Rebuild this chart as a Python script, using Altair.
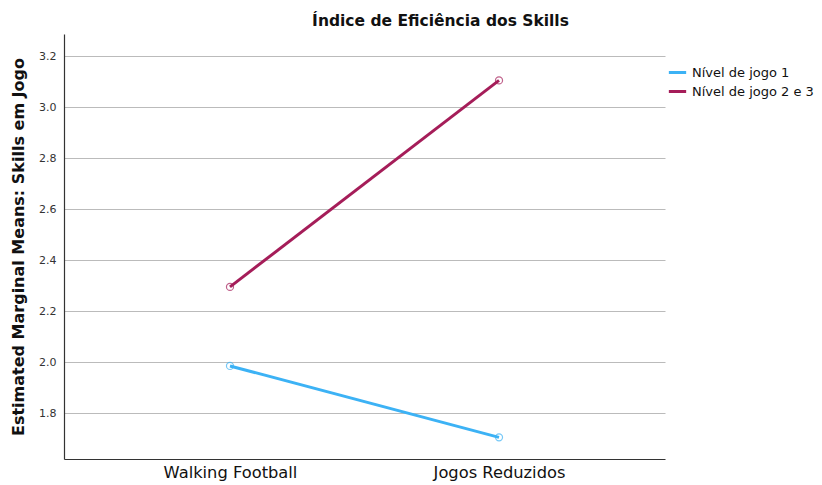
import altair as alt
import pandas as pd

categories = ["Walking Football", "Jogos Reduzidos"]
series = ["Nível de jogo 1", "Nível de jogo 2 e 3"]
nivel1 = [1.985, 1.705]
nivel23 = [2.295, 3.105]

rows = []
for s, vals in zip(series, [nivel1, nivel23]):
    for c, v in zip(categories, vals):
        rows.append({"cat": c, "serie": s, "value": v})
df = pd.DataFrame(rows)

FONT = "DejaVu Sans"
colors = ["#3cb2f5", "#a51d59"]

x = alt.X("cat:N", sort=categories, title=None,
          scale=alt.Scale(type="point", padding=0.617),
          axis=alt.Axis(labelAngle=0, labelFontSize=16.3, labelColor="#111", ticks=False,
                        domainColor="#333", domainWidth=1.2, labelPadding=5, labelFont=FONT))
y = alt.Y("value:Q", title="Estimated Marginal Means: Skills em Jogo",
          scale=alt.Scale(domain=[1.62, 3.287], nice=False, zero=False),
          axis=alt.Axis(values=[1.8, 2.0, 2.2, 2.4, 2.6, 2.8, 3.0, 3.2], format=".1f",
                        ticks=False, labelFontSize=11, labelColor="#333", labelPadding=8,
                        gridColor="#bbbbbb", gridWidth=1, domainColor="#333", domainWidth=1.2,
                        titleFontSize=16, titleFontWeight="bold", titleColor="#111",
                        titlePadding=12, labelFont=FONT, titleFont=FONT))
color = alt.Color("serie:N", sort=series, title=None,
                  scale=alt.Scale(domain=series, range=colors),
                  legend=alt.Legend(orient="none", legendX=603, legendY=28, symbolType="stroke",
                                    symbolStrokeWidth=3, symbolSize=300, labelFontSize=13,
                                    labelFont=FONT, labelColor="#111", rowPadding=1,
                                    labelOffset=4))

lines = alt.Chart(df).mark_line(strokeWidth=3).encode(x=x, y=y, color=color)
points = alt.Chart(df).mark_point(shape="circle", filled=False, size=50, strokeWidth=1.2).encode(
    x=x, y=y, color=alt.Color("serie:N", sort=series, scale=alt.Scale(domain=series, range=colors), legend=None))

chart = (lines + points).properties(
    width=601, height=425,
    title=alt.Title("Índice de Eficiência dos Skills", fontSize=15.5, fontWeight="bold",
                    font=FONT, color="#111", offset=5, dx=76),
    autosize=alt.AutoSizeParams(type="none"),
    padding={"left": 56, "top": 26, "right": 149, "bottom": 26},
).configure_view(stroke=None)

chart.save("out.html", embed_options={"renderer": "svg", "actions": False})
